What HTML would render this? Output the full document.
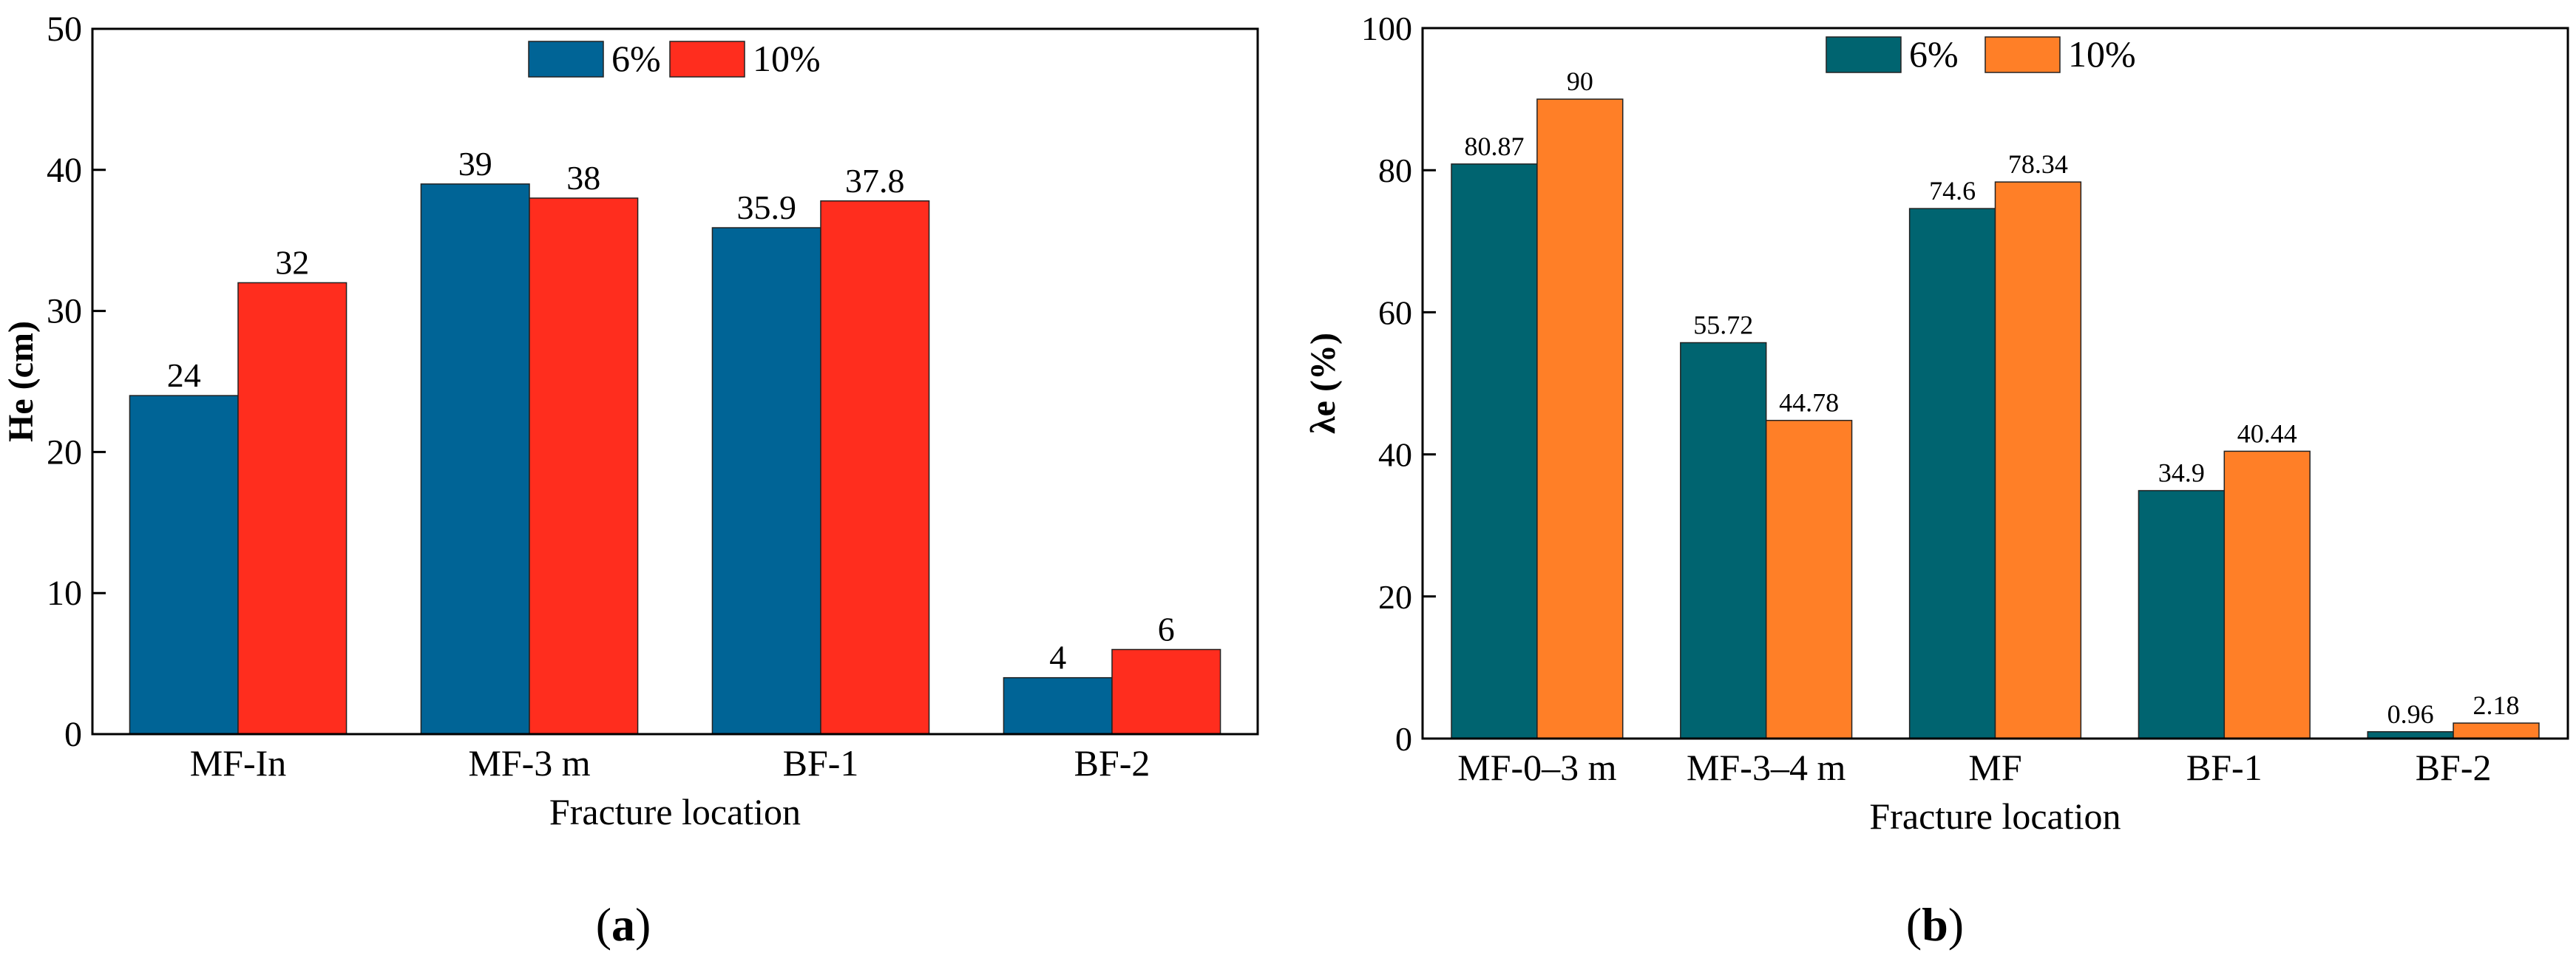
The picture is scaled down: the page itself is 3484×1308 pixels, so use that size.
<!DOCTYPE html>
<html><head><meta charset="utf-8"><style>
html,body{margin:0;padding:0;background:#fff;}
svg, svg text{font-family:"Liberation Serif","Times New Roman",serif;}
</style></head><body>
<svg id="root" width="3484" height="1303" viewBox="0 0 3484 1303" font-family="Liberation Serif, serif"></svg>
<script>
const catsA = ["MF-In","MF-3 m","BF-1","BF-2"];
const a6 = [24,39,35.9,4];
const a10 = [32,38,37.8,6];
const labA6 = ["24","39","35.9","4"];
const labA10 = ["32","38","37.8","6"];
const ticksA = [0,10,20,30,40,50];

const catsB = ["MF-0\u20133 m","MF-3\u20134 m","MF","BF-1","BF-2"];
const b6 = [80.87,55.72,74.6,34.9,0.96];
const b10 = [90,44.78,78.34,40.44,2.18];
const labB6 = ["80.87","55.72","74.6","34.9","0.96"];
const labB10 = ["90","44.78","78.34","40.44","2.18"];
const ticksB = [0,20,40,60,80,100];

const NS="http://www.w3.org/2000/svg";
const root=document.getElementById('root');
function el(tag,attrs,parent,text){const e=document.createElementNS(NS,tag);for(const k in attrs)e.setAttribute(k,attrs[k]);if(tag==='text')e.setAttribute('font-family','Liberation Serif, serif');if(text!==undefined)e.textContent=text;(parent||root).appendChild(e);return e;}

function chart(o){
  const g=el('g',{});
  
  
  const yS=v=>o.bottom-(v-o.ymin)/(o.ymax-o.ymin)*(o.bottom-o.top);
  const gw=(o.right-o.left)/o.cats.length;
  const xC=i=>o.left+gw*(i+0.5);
  const bw=gw*o.bwf;
  o.ticks.forEach(t=>{
    const y=yS(t);
    const tl=el('line',{x1:o.left,x2:o.left+18,y1:y,y2:y,stroke:'#000','stroke-width':3},g);
    
    
    const tx=el('text',{x:o.left-14,y:y+16,'text-anchor':'end','font-size':o.tickFs},g,String(t));
    
    
  });
  o.cats.forEach((c,i)=>{
    const x=xC(i);
    [[o.s1,o.l1,o.c1,-1],[o.s2,o.l2,o.c2,0]].forEach(([s,l,col,off],k)=>{
      const bx=x+off*bw, by=yS(s[i]);
      const r=el('rect',{x:bx,y:by,width:bw,height:yS(0)-by,fill:col,stroke:'#222','stroke-width':1.5},g);
      
      
      const t=el('text',{x:bx+bw/2,y:by-12,'text-anchor':'middle','font-size':o.valFs},g,l[i]);
      
      
    });
    const xl=el('text',{x:x,y:o.bottom+56,'text-anchor':'middle','font-size':50},g,c);
    
    
  });
  const fr=el('rect',{x:o.left,y:o.top,width:o.right-o.left,height:o.bottom-o.top,fill:'none',stroke:'#000','stroke-width':3},g);
  
  
  const xt=el('text',{x:(o.left+o.right)/2,y:o.bottom+122,'text-anchor':'middle','font-size':50},g,'Fracture location');
  
  
  const yt=el('text',{x:0,y:0,'text-anchor':'middle','font-size':48,'font-weight':'bold',transform:`translate(${o.ytX},${(o.top+o.bottom)/2}) rotate(-90)`},g,o.ytitle);
  
  
  const lg=el('g',{},g);
  
  
  [[o.leg[0],o.c1,'6%'],[o.leg[1],o.c2,'10%']].forEach(([lx,col,txt])=>{
    const sw=el('rect',{x:lx,y:o.legY,width:101,height:48,fill:col,stroke:'#222','stroke-width':1.5},lg);
    
    
    const lt=el('text',{x:lx+112,y:o.legY+40,'font-size':50},lg,txt);
    
    
  });
  const cap=el('text',{x:o.capX,y:1272,'text-anchor':'middle','font-size':64},g);
  
  
  el('tspan',{},cap,'(');el('tspan',{'font-weight':'bold'},cap,o.cap);el('tspan',{},cap,')');
}
chart({name:'chart-a',left:125,right:1701,top:39,bottom:993,ymin:0,ymax:50,cats:catsA,s1:a6,s2:a10,l1:labA6,l2:labA10,
  c1:'#006496',c2:'#ff2d1e',bwf:0.372,ticks:ticksA,tickFs:48,valFs:46,ytitle:'He (cm)',ytX:44,leg:[715,906],legY:56,capX:843,cap:'a'});
chart({name:'chart-b',left:1924,right:3473,top:38,bottom:999,ymin:0,ymax:100,cats:catsB,s1:b6,s2:b10,l1:labB6,l2:labB10,
  c1:'#006470',c2:'#ff7f27',bwf:0.374,ticks:ticksB,tickFs:46,valFs:36,ytitle:'\u03bbe (%)',ytX:1805,leg:[2470,2685],legY:50,capX:2617,cap:'b'});
</script>
</body></html>
